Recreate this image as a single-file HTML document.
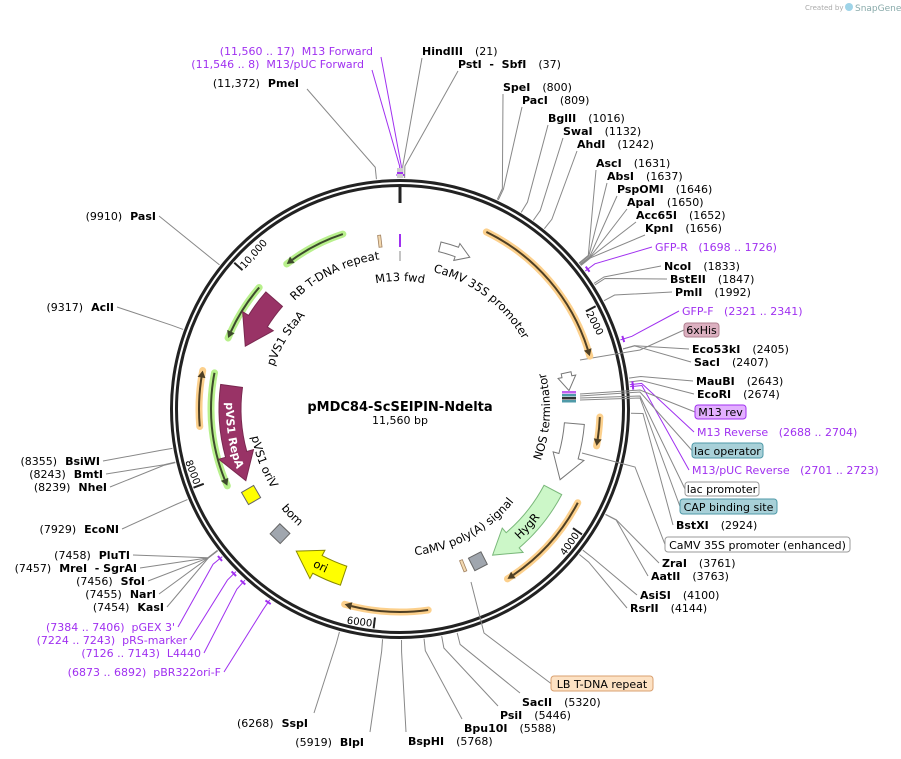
<!DOCTYPE html>
<html><head><meta charset="utf-8">
<style>
html,body{margin:0;padding:0;background:#fff;}
svg{display:block;font-family:"DejaVu Sans","Liberation Sans",sans-serif;}
text{white-space:pre;}
</style></head>
<body>
<svg id="map" width="901" height="759" viewBox="0 0 901 759" xmlns="http://www.w3.org/2000/svg">
<text x="805" y="10" font-size="7" fill="#aaa">Created by</text>
<circle cx="849" cy="7" r="4" fill="#9fd4e8"/>
<text x="855" y="11" font-size="9" fill="#8aa">SnapGene</text>
<text x="400" y="411" font-size="13" font-weight="bold" text-anchor="middle">pMDC84-ScSEIPIN-Ndelta</text>
<text x="400" y="424" font-size="11" text-anchor="middle">11,560 bp</text>
</svg>
<script>
const L=11560, cx=400, cy=409;
const svg=document.getElementById('map');
const NS='http://www.w3.org/2000/svg';
function P(bp,r){const t=bp/L*2*Math.PI;return [cx+r*Math.sin(t), cy-r*Math.cos(t)];}
function mk(tag,attrs){const e=document.createElementNS(NS,tag);for(const k in attrs)e.setAttribute(k,attrs[k]);svg.appendChild(e);return e;}
function arcD(b1,b2,r,move){const a=P(b1,r),b=P(b2,r);const d=b2-b1;const large=Math.abs(d)>L/2?1:0;const sw=d>0?1:0;
 return (move===false?'L':'M')+a[0].toFixed(2)+' '+a[1].toFixed(2)+' A'+r+' '+r+' 0 '+large+' '+sw+' '+b[0].toFixed(2)+' '+b[1].toFixed(2);}
function px2bp(px,r){return px/r/(2*Math.PI)*L;}

// ---- data ----
const siteNames=['HindIII','PstI  -  SbfI','SpeI','PacI','BglII','SwaI','AhdI','AscI','AbsI','PspOMI','ApaI','Acc65I','KpnI','NcoI','BstEII','PmlI','Eco53kI','SacI','MauBI','EcoRI','BstXI','ZraI','AatII','AsiSI','RsrII','SacII','PsiI','Bpu10I','BspHI','BlpI','SspI','KasI','NarI','SfoI','MreI  - SgrAI','PluTI','EcoNI','NheI','BmtI','BsiWI','AclI','PasI','PmeI'];
const siteBps=[21,37,800,809,1016,1132,1242,1631,1637,1646,1650,1652,1656,1833,1847,1992,2405,2407,2643,2674,2924,3761,3763,4100,4144,5320,5446,5588,5768,5919,6268,7454,7455,7456,7457,7458,7929,8239,8243,8355,9317,9910,11372];
const siteLabels=['(21)','(37)','(800)','(809)','(1016)','(1132)','(1242)','(1631)','(1637)','(1646)','(1650)','(1652)','(1656)','(1833)','(1847)','(1992)','(2405)','(2407)','(2643)','(2674)','(2924)','(3761)','(3763)','(4100)','(4144)','(5320)','(5446)','(5588)','(5768)','(5919)','(6268)','(7454)','(7455)','(7456)','(7457)','(7458)','(7929)','(8239)','(8243)','(8355)','(9317)','(9910)','(11,372)'];
const siteLayout=[[422,51,'R'],[458,64,'R'],[503,87,'R'],[522,100,'R'],[548,118,'R'],[563,131,'R'],[577,144,'R'],[596,163,'R'],[607,176,'R'],[617,189,'R'],[627,202,'R'],[636,215,'R'],[645,228,'R'],[664,266,'R'],[670,279,'R'],[675,292,'R'],[692,349,'R'],[694,362,'R'],[696,381,'R'],[697,394,'R'],[676,525,'R'],[662,563,'R'],[651,576,'R'],[640,595,'R'],[630,608,'R'],[522,702,'B'],[500,715,'B'],[464,728,'B'],[408,741,'B'],[364,742,'LB'],[308,723,'LB'],[164,607,'L'],[156,594,'L'],[145,581,'L'],[137,568,'L'],[130,555,'L'],[119,529,'L'],[107,487,'L'],[103,474,'L'],[100,461,'L'],[114,307,'L'],[156,216,'L'],[299,83,'LT']];

const primerNames=['M13 Forward','M13/pUC Forward','GFP-R','GFP-F','M13 Reverse','M13/pUC Reverse','pGEX 3\'','pRS-marker','L4440','pBR322ori-F'];
const primerRanges=['(11,560 .. 17)','(11,546 .. 8)','(1698 .. 1726)','(2321 .. 2341)','(2688 .. 2704)','(2701 .. 2723)','(7384 .. 7406)','(7224 .. 7243)','(7126 .. 7143)','(6873 .. 6892)'];
const primerBps=[11570,11557,1712,2331,2696,2712,7395,7233,7134,6882];
const primerLayout=[[373,51,'LT'],[364,64,'LT'],[655,247,'R'],[682,311,'R'],[697,432,'R'],[692,470,'R'],[175,627,'L'],[187,640,'L'],[201,653,'L'],[221,672,'L']];

const orangeTails=[835,2964,3783,5524,8510];
const orangeHeads=[2390,3231,4742,6288,9024];
const orangeR=[197,200,201,203,201];
const greenTails=[10979,9980,9024];
const greenHeads=[10340,9391,7900];
const greenR=[184,186,189];
const arrowNames=['pVS1-StaA','pVS1-RepA','ori','HygR','NOS-terminator','CaMV-35S-small','lac-small'];
const arrowTails=[9990,8920,6380,3786,3044,443,2495];
const arrowHeads=[9380,7870,6940,4741,3655,793,2690];
const arrowR=[167,170,176,173,175,167,170];
const arrowFill=['#993366','#993366','#ffff00','#ccf7c8','#ffffff','#ffffff','#ffffff'];
const arrowStroke=['#7a2850','#7a2850','#888800','#7ab87a','#777','#777','#777'];

// ---- ring ----
let e;
e=mk('circle',{cx,cy,r:228.5,fill:'none',stroke:'#222','stroke-width':3});


e=mk('circle',{cx,cy,r:223.5,fill:'none',stroke:'#222','stroke-width':3});


const tickBps=[0,2000,4000,6000,8000,10000];
const tickText=['','2000','4000','6000','8000','10,000'];
tickBps.forEach((b,i)=>{
 const a=P(b,i===0?222:221), c=P(b,i===0?206:210);
 const t=mk('line',{x1:a[0],y1:a[1],x2:c[0],y2:c[1],stroke:'#222','stroke-width':i===0?3:2});
 
 
 if(tickText[i]){
  const deg=b/L*360; const top=(deg<90||deg>270);
  const p=P(b+px2bp(2,215),top?209:219.5);
  const rot=top?deg:deg-180;
  const tx=mk('text',{x:0,y:0,'font-size':10,transform:`translate(${p[0]},${p[1]}) rotate(${rot})`,'text-anchor':top?'start':'end'});
  tx.textContent=tickText[i];
  
  
 }
});

function labelLine(bp,end,color,name){
 const a=P(bp,231),b=P(bp,243);
 const l=mk('polyline',{points:`${a[0]},${a[1]} ${b[0]},${b[1]} ${end[0]},${end[1]}`,fill:'none',stroke:color,'stroke-width':1});
 
 
}
function endPt(x,y,side){
 if(side==='R') return y<240?[x,y+7]:[x-3,y];
 if(side==='B') return [x-2,y-9];
 if(side==='LB') return [x+6,y-10];
 if(side==='LT') return [x+8,y+6];
 return [x+3,y];
}
siteNames.forEach((n,i)=>{
 const [x,y,side]=siteLayout[i];
 labelLine(siteBps[i],endPt(x,y,side),'#888','site-line-'+i);
 const right=(side==='R'||side==='B');
 const t=mk('text',{x,y:y+4,'font-size':11,'text-anchor':right?'start':'end',fill:'#000'});
 
 
 if(right){t.innerHTML=`<tspan font-weight="bold">${n}</tspan><tspan dx="12">${siteLabels[i]}</tspan>`;}
 else{t.innerHTML=`<tspan>${siteLabels[i]}</tspan><tspan dx="8" font-weight="bold">${n}</tspan>`;}
});
primerNames.forEach((n,i)=>{
 const [x,y,side]=primerLayout[i];
 const b=primerBps[i];
 const m=mk('path',{d:arcD(b-25,b+25,234),stroke:'#a030f0','stroke-width':2,fill:'none'});
 
 
 labelLine(b,endPt(x,y,side),'#a030f0','primer-line-'+i);
 const right=side==='R';
 const t=mk('text',{x,y:y+4,'font-size':11,'text-anchor':right?'start':'end',fill:'#a030f0'});
 
 
 t.textContent=right?(n+'   '+primerRanges[i]):(primerRanges[i]+'  '+n);
});

const boxTexts=['6xHis','M13 rev','lac operator','lac promoter','CAP binding site','CaMV 35S promoter (enhanced)','LB T-DNA repeat'];
const boxGeom=[[684,323,35,14],[695,405,51,14],[692,443,71,15],[685,482,74,14],[680,499,97,15],[665,537,185,15],[551,676,102,15]];
const boxFill=['#dcb0c0','#e3b0ff','#a8d0d8','#ffffff','#a8d0d8','#ffffff','#fde2c4'];
const boxStroke=['#b08090','#a030f0','#4f9aa8','#999','#4f9aa8','#999','#d9a070'];
const boxSrc=[[[580,360],[640,350]],[[580,394],[640,390]],[[580,396],[640,392]],[[580,398],[640,396]],[[580,400],[640,398]],[[582,453],[635,467]],[[471,582],[484,633]]];
boxTexts.forEach((s,i)=>{
 const [x,y,w,h]=boxGeom[i];
 const src=boxSrc[i];
 const l=mk('polyline',{points:`${src[0][0]},${src[0][1]} ${src[1][0]},${src[1][1]} ${x},${y+h/2}`,fill:'none',stroke:'#888','stroke-width':1});
 
 
 const r=mk('rect',{x,y,width:w,height:h,rx:3,fill:boxFill[i],stroke:boxStroke[i],'stroke-width':1});
 
 
 const t=mk('text',{x:x+w/2,y:y+h-3,'font-size':11,'text-anchor':'middle'});
 t.textContent=s;
 
 
});

function thinArc(tail,head,r,glow,dark,name){
 const dir=Math.sign(head-tail); const neck=head-dir*px2bp(7,r);
 const g=mk('path',{d:arcD(tail,head,r),stroke:glow,'stroke-width':7,fill:'none','stroke-linecap':'round'});
 
 
 const d=mk('path',{d:arcD(tail,neck,r),stroke:dark,'stroke-width':2,fill:'none'});
 
 
 const a=P(neck,r+4),b=P(head,r),c=P(neck,r-4);
 const h=mk('polygon',{points:`${a} ${b} ${c}`,fill:dark});
 
 
}
orangeTails.forEach((t,i)=>thinArc(t,orangeHeads[i],orangeR[i],'#fcd08c','#4e3f24','orange-feature-'+i));
greenTails.forEach((t,i)=>thinArc(t,greenHeads[i],greenR[i],'#b8f08c','#3d4a2c','green-feature-'+i));

arrowNames.forEach((n,i)=>{
 const tail=arrowTails[i],head=arrowHeads[i],r=arrowR[i];
 const small=i>=5; const w=small?10:(i<2?22:20), hw=small?18:(i<2?36:32), hl=small?14:(i<2?28:25);
 const dir=Math.sign(head-tail); const neck=head-dir*px2bp(hl,r);
 const o=P(neck,r+hw/2),tip=P(head,r),ii=P(neck,r-hw/2);
 const d=arcD(tail,neck,r+w/2)+` L${o} L${tip} L${ii} `+arcD(neck,tail,r-w/2,false).replace(/^L[^A]*/,'L'+P(neck,r-w/2)+' ')+' Z';
 const p=mk('path',{d,fill:arrowFill[i],stroke:arrowStroke[i],'stroke-width':1});
 
 
});

const sqBps=[7706,7190,4910];
const sqR=[172,173,171];
const sqFill=['#ffff00','#a0a6ae','#a0a6ae'];
sqBps.forEach((b,i)=>{
 const p=P(b,sqR[i]);const deg=b/L*360;
 const s=mk('rect',{x:-7,y:-7,width:14,height:14,fill:sqFill[i],stroke:'#666','stroke-width':1,transform:`translate(${p[0]},${p[1]}) rotate(${deg})`});
 
 
});
const tanBps=[11340,5075];
tanBps.forEach((b,i)=>{
 const p=P(b,169);const deg=b/L*360;
 const s=mk('rect',{x:-1.5,y:-6,width:3,height:12,fill:'#f3d9b0',stroke:'#a08060','stroke-width':0.8,transform:`translate(${p[0]},${p[1]}) rotate(${deg})`});
 
 
});
{ const a=P(0,175),b=P(0,162);
 e=mk('line',{x1:a[0],y1:a[1],x2:b[0],y2:b[1],stroke:'#a030f0','stroke-width':2});
 
 
 const c=P(0,158),d=P(0,148);
 e=mk('line',{x1:c[0],y1:c[1],x2:d[0],y2:d[1],stroke:'#888','stroke-width':1});
 
 
 e=mk('rect',{x:397,y:168,width:6,height:10,fill:'#ccc'});
 
 
 e=mk('rect',{x:397,y:172,width:6,height:2,fill:'#a030f0'});
 
 
}
const lacColors=['#c060f0','#4f9aa8','#333','#4f9aa8'];
lacColors.forEach((c,i)=>{
 e=mk('rect',{x:562,y:391+i*3,width:14,height:2.5,fill:c});
 
 
});

const curveTexts=['M13 fwd','RB T-DNA repeat','CaMV 35S promoter','pVS1 StaA','pVS1 RepA','pVS1 oriV','bom','ori','CaMV poly(A) signal','HygR','NOS terminator'];
const curveBp=[0,10725,1190,9685,8380,7990,7240,6640,4870,4260,2990];
const curveR=[128,151,141,133,174,151,155,180,147,177,150];
const curveCW=[1,1,1,1,0,0,0,0,0,0,0];
const curveFill=['#000','#000','#000','#000','#fff','#000','#000','#000','#000','#000','#000'];
curveTexts.forEach((s,i)=>{
 const span=L/3;const b=curveBp[i];
 const d=curveCW[i]?arcD(b-span,b+span,curveR[i]):arcD(b+span,b-span,curveR[i]);
 const p=mk('path',{id:'cp'+i,d,fill:'none',stroke:'none'});
 
 
 const t=mk('text',{'font-size':i===4?11:11.5,fill:curveFill[i],'font-weight':i===4?'bold':'normal'});
 t.innerHTML=`<textPath href="#cp${i}" startOffset="50%" text-anchor="middle">${s}</textPath>`;
 
 
});
</script>
</body></html>
